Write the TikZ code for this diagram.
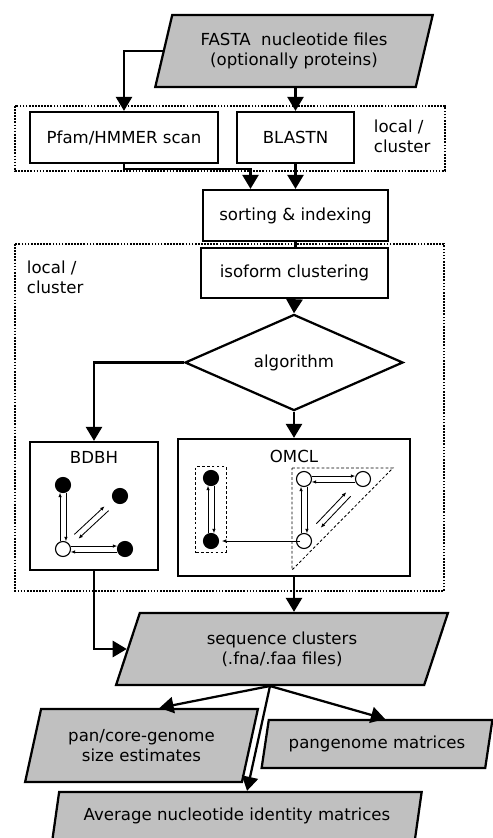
\documentclass[tikz,border=0pt]{standalone}
\usepackage{fontspec}
\setmainfont{DejaVu Sans}
\usetikzlibrary{arrows.meta,shapes.geometric,calc,fit}

\definecolor{boxgray}{RGB}{192,192,192}

\tikzset{
    proc/.style={draw, line width=1.6pt, minimum height=1.275cm, inner sep=2pt},
    iobox/.style={trapezium, trapezium left angle=70, trapezium right angle=110,
        trapezium stretches=true, draw, line width=1.6pt, fill=boxgray,
        inner xsep=0pt, inner ysep=0pt, align=center},
    decision/.style={diamond, draw, line width=1.6pt, inner sep=0pt},
    frame/.style={line width=1.3pt, dash pattern=on 1.2pt off 1pt},
    arr/.style={line width=1.6pt, -{Triangle[length=10pt,width=11.5pt]}},
    link/.style={line width=1.6pt},
    fdot/.style={circle, fill=black, draw, line width=0.8pt, minimum size=0.375cm, inner sep=0pt},
    odot/.style={circle, fill=white, draw, line width=0.8pt, minimum size=0.375cm, inner sep=0pt},
    tinyarr/.style={line width=0.6pt, -{Latex[length=3.2pt,width=2.6pt]}},
    thindash/.style={line width=0.6pt, dash pattern=on 2pt off 1.5pt}
}

% two thin arrows, one each way, side by side
\newcommand\pairarrows[3][5.5pt]{%
    \draw[tinyarr, shorten <=#1, shorten >=#1] ($(#2)!2.1pt!90:(#3)$) -- ($(#3)!2.1pt!-90:(#2)$);
    \draw[tinyarr, shorten <=#1, shorten >=#1] ($(#3)!2.1pt!90:(#2)$) -- ($(#2)!2.1pt!-90:(#3)$);
}

\begin{document}
\begin{tikzpicture}[x=0.025cm, y=-0.025cm, font=\fontsize{11.8}{14}\selectfont]
    \useasboundingbox (0,0) rectangle (493,838);
    \clip (0,0) rectangle (493,838);

    \draw[frame] (15,106) rectangle (445,171);
    \draw[frame] (15,244) rectangle (444,591);

    \node[iobox, minimum width=6.95cm, minimum height=1.8cm] (fasta) at (294,51)
        {FASTA\ \ nucleotide files\\(optionally proteins)};

    \node[proc, minimum width=4.7cm] (pfam) at (124,137.5) {Pfam/HMMER scan};
    \node[proc, minimum width=2.925cm] (blastn) at (295.5,137.5) {BLASTN};
    \node[align=left, anchor=west] (local1) at (369,136) {local /\\cluster};

    \node[proc, minimum width=4.625cm] (sort) at (295.5,215.5) {sorting \& indexing};
    \node[proc, minimum width=4.675cm, minimum height=1.25cm] (iso) at (294.5,273) {isoform clustering};
    \node[align=left, anchor=west] (local2) at (22,277.5) {local /\\cluster};

    \node[decision, minimum width=5.45cm, minimum height=2.125cm] (alg) at (294,362.5) {algorithm};

    \node[proc, minimum width=3.2cm, minimum height=3.2cm] (bdbh) at (94,506) {};
    \node (bdbhtitle) at (94,457) {BDBH};
    \node[proc, minimum width=5.8cm, minimum height=3.425cm] (omcl) at (294,507.5) {};
    \node (omcltitle) at (294,456) {OMCL};

    \node[iobox, minimum width=8.3cm, minimum height=1.8cm] (seq) at (282,649)
        {sequence clusters\\(.fna/.faa files)};
    \node[iobox, minimum width=5.825cm, minimum height=1.825cm] (pan) at (141.5,745.5)
        {pan/core-genome\\size estimates};
    \node[iobox, minimum width=5.775cm, minimum height=1.2cm] (pg) at (377,744)
        {pangenome matrices};
    \node[iobox, minimum width=9.25cm, minimum height=1.2cm] (ani) at (237,816)
        {Average nucleotide identity matrices};

    % BDBH sketch
    \node[fdot] (a1) at (63,485) {};
    \node[fdot] (a2) at (120,496) {};
    \node[odot] (a0) at (63,549) {};
    \node[fdot] (a3) at (125,549) {};
    \pairarrows{a0}{a1}
    \pairarrows{a0}{a3}
    \pairarrows[13pt]{a0}{a2}

    % OMCL sketch
    \node[fdot] (b1) at (211,478) {};
    \node[fdot] (b2) at (211,541) {};
    \node[odot] (c1) at (304,479) {};
    \node[odot] (c2) at (363,479) {};
    \node[odot] (c3) at (304,541) {};
    \node[thindash, draw, fit=(b1)(b2), inner xsep=5pt, inner ysep=2.5pt] (grp) {};
    \draw[thindash] (292,468) -- (393,468) -- (292,570) -- cycle;
    \pairarrows{b2}{b1}
    \pairarrows{c3}{c1}
    \pairarrows{c1}{c2}
    \pairarrows[15pt]{c3}{c2}
    \draw[tinyarr, shorten <=-3pt, shorten >=2pt] (c3) -- (b2);

    % connectors
    \draw[arr] (fasta.west) -| (pfam.north);
    \draw[arr] (fasta.south -| blastn.north) -- (blastn.north);
    \draw[arr] (pfam.south) -- ++(0,5) -| ($(sort.north)+(-45,0)$);
    \draw[arr] (blastn.south) -- (sort.north);
    \draw[link] (sort.south) -- (sort.south |- iso.north);
    \draw[arr] (iso.south) -- (alg.north);
    \draw[arr] (alg.west) -| (bdbh.north);
    \draw[arr] (alg.south) -- (omcl.north);
    \draw[arr] (omcl.south) -- (omcl.south |- seq.north);
    \draw[arr] (bdbh.south) |- (seq.west);

    \coordinate (split) at (270,686);
    \draw[arr] (split) -- ($(pan.north)+(18,0)$);
    \draw[arr] (split) -- ($(pg.north)+(8,0)$);
    \draw[arr] (split) -- ($(ani.north)+(10,0)$);
\end{tikzpicture}
\end{document}
